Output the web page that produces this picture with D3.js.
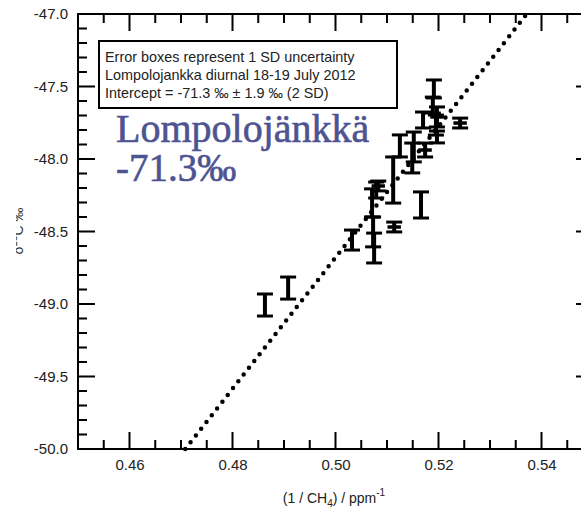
<!DOCTYPE html>
<html>
<head>
<meta charset="utf-8">
<script src="https://cdn.jsdelivr.net/npm/d3@7"></script>
<style>
	body { margin: 0; background: #fff; }
	svg { display: block; font-family: "Liberation Sans", Arial, sans-serif; }
</style>
</head>
<body>
<div id="chart"></div>
<script>
// values
const invCH4 = [0.4863, 0.4908, 0.5032, 0.5075, 0.5073, 0.5114, 0.5166, 0.5112, 0.5125, 0.5079, 0.5071,
	0.5083, 0.5152, 0.5149, 0.5174, 0.517, 0.5191, 0.5189, 0.5197, 0.5195, 0.5197, 0.5242];
const d13C = [-49.007, -48.89, -48.559, -48.614, -48.503, -48.469, -48.317, -48.145, -47.91, -48.214, -48.303,
	-48.186, -47.917, -47.993, -47.938, -47.731, -47.517, -47.628, -47.71, -47.766, -47.848, -47.752];
const d13CErr = [0.076, 0.076, 0.069, 0.103, 0.103, 0.034, 0.09, 0.159, 0.076, 0.055, 0.097,
	0.034, 0.103, 0.103, 0.048, 0.055, 0.062, 0.055, 0.069, 0.069, 0.041, 0.034];
const invCH4Err = [0, 0, 0, 0, 0, 0.0013, 0, 0, 0, 0, 0,
	0.0013, 0, 0, 0.0013, 0, 0, 0, 0.0013, 0, 0, 0.0013];

const intercept = -71.3;
const slope = 45.24;

const xTicks = [0.46, 0.48, 0.5, 0.52, 0.54];
const yTicks = [-50.0, -49.5, -49.0, -48.5, -48.0, -47.5, -47.0];
const legendLines = [
	"Error boxes represent 1 SD uncertainty",
	"Lompolojankka diurnal 18-19 July 2012",
	"Intercept = -71.3 \u2030 \u00b1 1.9 \u2030 (2 SD)"
];
const siteName = "Lompolojänkkä";
const siteValue = "-71.3\u2030";

const width = 581;
const height = 508;
const plotL = 78, plotR = 593, plotT = 14, plotB = 449;
const majorLen = 17, minorLen = 9;

const svg = d3.select("#chart").append("svg")
	.attr("width", width)
	.attr("height", height);

const x = d3.scaleLinear().domain([0.45, 0.55]).range([plotL, plotR]);
const y = d3.scaleLinear().domain([-50, -47]).range([plotB, plotT]);

const xMinor = d3.range(0.455, 0.551, 0.005).filter((v) => Math.abs(Math.round(v * 50) - v * 50) > 1e-6);
const yMinor = d3.range(-50, -46.99, 0.1).filter((v) => Math.abs(Math.round(v * 2) - v * 2) > 1e-6);

// axis titles
const xTitle = svg.append("text")
	.attr("x", 334).attr("y", 503)
	.attr("text-anchor", "middle")
	.attr("fill", "#222")
	.style("font-size", "14px");
xTitle.append("tspan").text("(1 / CH");
xTitle.append("tspan").attr("dy", 4).style("font-size", "10px").text("4");
xTitle.append("tspan").attr("dy", -4).text(") / ppm");
xTitle.append("tspan").attr("dy", -7).style("font-size", "10px").text("-1");

// y title is cut off at its left side in the original
const yTitle = svg.append("text")
	.attr("transform", "translate(23,231) rotate(-90)")
	.attr("text-anchor", "middle")
	.attr("fill", "#333")
	.style("font-size", "14px");
yTitle.append("tspan").text("\u03b4");
yTitle.append("tspan").attr("dy", -6).style("font-size", "10px").text("13");
yTitle.append("tspan").attr("dy", 6).text("C \u2030");
svg.append("rect").attr("x", 0).attr("y", 180).attr("width", 16).attr("height", 100).attr("fill", "#fff");

// regression line, only between y = -50 and y = -47
const fitLine = d3.line().x((d) => x(d)).y((d) => y(intercept + slope * d));
svg.append("path")
	.attr("d", fitLine([(-50 - intercept) / slope, (-47 - intercept) / slope]))
	.attr("fill", "none")
	.attr("stroke", "#000")
	.attr("stroke-width", 4.5)
	.attr("stroke-linecap", "round")
	.attr("stroke-dasharray", "0,8.6");

// error bars
const pts = invCH4.map((v, i) => ({ x: v, y: d13C[i], ey: d13CErr[i], ex: invCH4Err[i] }));
const bars = svg.append("g").attr("stroke", "#000");

bars.selectAll(".v").data(pts).enter().append("line")
	.attr("x1", (d) => x(d.x)).attr("x2", (d) => x(d.x))
	.attr("y1", (d) => y(d.y - d.ey)).attr("y2", (d) => y(d.y + d.ey))
	.attr("stroke-width", 4);
bars.selectAll(".capTop").data(pts).enter().append("line")
	.attr("x1", (d) => x(d.x) - 8).attr("x2", (d) => x(d.x) + 8)
	.attr("y1", (d) => y(d.y + d.ey)).attr("y2", (d) => y(d.y + d.ey))
	.attr("stroke-width", 3);
bars.selectAll(".capBot").data(pts).enter().append("line")
	.attr("x1", (d) => x(d.x) - 8).attr("x2", (d) => x(d.x) + 8)
	.attr("y1", (d) => y(d.y - d.ey)).attr("y2", (d) => y(d.y - d.ey))
	.attr("stroke-width", 3);

const withX = pts.filter((d) => d.ex > 0);
bars.selectAll(".h").data(withX).enter().append("line")
	.attr("x1", (d) => x(d.x - d.ex)).attr("x2", (d) => x(d.x + d.ex))
	.attr("y1", (d) => y(d.y)).attr("y2", (d) => y(d.y))
	.attr("stroke-width", 3.5);

// frame
svg.append("path")
	.attr("d", `M${plotL},${plotT}H${plotR}V${plotB}H${plotL}Z`)
	.attr("fill", "none").attr("stroke", "#000").attr("stroke-width", 2);

// inward tick marks, drawn as thin filled rects
const xTickData = xTicks.map((v) => ({ v, len: majorLen })).concat(xMinor.map((v) => ({ v, len: minorLen })));
const yTickData = yTicks.map((v) => ({ v, len: majorLen })).concat(yMinor.map((v) => ({ v, len: minorLen })));
const tickG = svg.append("g").attr("fill", "#000");

tickG.selectAll(".tb").data(xTickData).enter().append("rect")
	.attr("x", (d) => x(d.v) - 1).attr("y", (d) => plotB - d.len)
	.attr("width", 2).attr("height", (d) => d.len);
tickG.selectAll(".tt").data(xTickData).enter().append("rect")
	.attr("x", (d) => x(d.v) - 1).attr("y", plotT)
	.attr("width", 2).attr("height", (d) => d.len);
tickG.selectAll(".tl").data(yTickData).enter().append("rect")
	.attr("x", plotL).attr("y", (d) => y(d.v) - 1)
	.attr("width", (d) => d.len).attr("height", 2);
tickG.selectAll(".tr").data(yTickData).enter().append("rect")
	.attr("x", (d) => plotR - d.len).attr("y", (d) => y(d.v) - 1)
	.attr("width", (d) => d.len).attr("height", 2);

// labels from d3 axes
svg.append("g").attr("transform", `translate(0,${plotB})`)
	.call(d3.axisBottom(x).tickValues(xTicks).tickSize(0).tickPadding(10).tickFormat((d) => d.toFixed(2)))
	.call((g) => g.select(".domain").remove())
	.call((g) => g.selectAll("text").attr("fill", "#222").style("font-size", "15px"));
svg.append("g").attr("transform", `translate(${plotL},0)`)
	.call(d3.axisLeft(y).tickValues(yTicks).tickSize(0).tickPadding(10).tickFormat((d) => d.toFixed(1)))
	.call((g) => g.select(".domain").remove())
	.call((g) => g.selectAll("text").attr("fill", "#222").style("font-size", "15px"));

// legend box
svg.append("rect")
	.attr("x", 99).attr("y", 41).attr("width", 298).attr("height", 67)
	.attr("fill", "#fff").attr("stroke", "#000").attr("stroke-width", 2);
svg.selectAll(".legend").data(legendLines).enter().append("text")
	.attr("x", 105)
	.attr("y", (d, i) => 62 + i * 18)
	.attr("fill", "#222")
	.style("font-size", "14.4px")
	.text((d) => d);

// site annotation
svg.append("text")
	.attr("x", 116).attr("y", 142)
	.attr("fill", "#4e5391")
	.attr("stroke", "#4e5391").attr("stroke-width", 0.6)
	.style("font-family", "'Liberation Serif', 'Times New Roman', serif")
	.style("font-size", "40px")
	.text(siteName);
svg.append("text")
	.attr("x", 116).attr("y", 181)
	.attr("fill", "#4e5391")
	.attr("stroke", "#4e5391").attr("stroke-width", 0.6)
	.style("font-family", "'Liberation Serif', 'Times New Roman', serif")
	.style("font-size", "39px")
	.text(siteValue);
</script>
</body>
</html>
